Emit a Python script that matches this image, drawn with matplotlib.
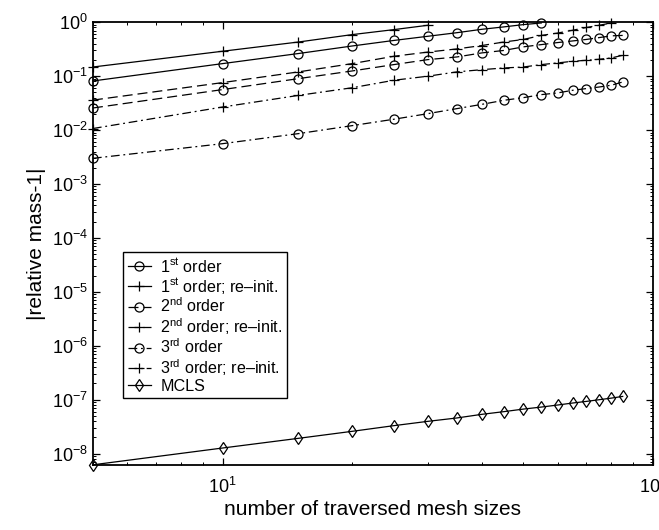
import matplotlib
matplotlib.use("Agg")
import matplotlib.pyplot as plt
from matplotlib.ticker import LogLocator, NullFormatter

plt.rcParams['font.family'] = ['Liberation Sans', 'DejaVu Sans']
plt.rcParams['mathtext.fontset'] = 'custom'
plt.rcParams['mathtext.rm'] = 'Liberation Sans'
plt.rcParams['mathtext.it'] = 'Liberation Sans:italic'

# mesh sizes traversed
n = [5, 10, 15, 20, 25, 30, 35, 40, 45, 50, 55, 60, 65, 70, 75, 80, 85]

first = [0.0815, 0.171, 0.263, 0.363, 0.46, 0.55, 0.64, 0.74, 0.82, 0.905, 0.97]
first_re = [0.148, 0.29, 0.43, 0.59, 0.73, 0.88]
second = [0.0257, 0.0564, 0.090, 0.125, 0.164, 0.203, 0.227, 0.27, 0.30,
          0.35, 0.385, 0.42, 0.45, 0.48, 0.52, 0.56, 0.57]
second_re = [0.036, 0.076, 0.12, 0.171, 0.234, 0.28, 0.32, 0.37, 0.43,
             0.48, 0.57, 0.63, 0.71, 0.80, 0.88, 0.97]
third = [0.0030, 0.0056, 0.0086, 0.0121, 0.0159, 0.0202, 0.025, 0.030, 0.0357,
         0.040, 0.0455, 0.0489, 0.0547, 0.0589, 0.063, 0.068, 0.078]
third_re = [0.0107, 0.0268, 0.044, 0.061, 0.084, 0.10, 0.12, 0.132, 0.142,
            0.148, 0.164, 0.176, 0.189, 0.197, 0.206, 0.218, 0.244]
mcls = [6.2e-9, 1.27e-8, 1.92e-8, 2.59e-8, 3.30e-8, 3.97e-8, 4.58e-8, 5.35e-8,
        6.0e-8, 6.7e-8, 7.3e-8, 7.96e-8, 8.67e-8, 9.3e-8, 1.0e-7, 1.07e-7, 1.15e-7]

labels = ['1$^{\\rm st}$ order', '1$^{\\rm st}$ order; re\u2013init.',
          '2$^{\\rm nd}$ order', '2$^{\\rm nd}$ order; re\u2013init.',
          '3$^{\\rm rd}$ order', '3$^{\\rm rd}$ order; re\u2013init.', 'MCLS']

fig = plt.figure(figsize=(6.59, 5.30), dpi=100)
ax = fig.add_axes([0.141, 0.123, 0.850, 0.835])

kw = dict(color='black', lw=0.9, ms=6.5, mfc='none', mew=0.9, clip_on=False)
dash = (0, (8, 4))
dashdot = (0, (7, 3, 1.5, 3))
ax.plot(n[:len(first)], first, ls='-', marker='o', label=labels[0], **kw)
ax.plot(n[:len(first_re)], first_re, ls='-', marker='+', label=labels[1], **kw)
ax.plot(n[:len(second)], second, ls=dash, marker='o', label=labels[2], **kw)
ax.plot(n[:len(second_re)], second_re, ls=dash, marker='+', label=labels[3], **kw)
ax.plot(n[:len(third)], third, ls=dashdot, marker='o', label=labels[4], **kw)
ax.plot(n[:len(third_re)], third_re, ls=dashdot, marker='+', label=labels[5], **kw)
ax.plot(n, mcls, ls='-', marker='d', label=labels[6], **kw)

ax.set_xscale('log')
ax.set_yscale('log')
ax.set_xlim(5, 100)
ax.set_ylim(6.2e-9, 1)
ax.yaxis.set_major_locator(LogLocator(base=10, numticks=20))
ax.yaxis.set_minor_locator(LogLocator(base=10, subs=range(2, 10), numticks=20))
ax.yaxis.set_minor_formatter(NullFormatter())
ax.xaxis.set_minor_formatter(NullFormatter())
ax.tick_params(which='both', direction='in', top=True, right=True, labelsize=13)
ax.tick_params(which='major', length=5, width=0.9)
ax.tick_params(axis='x', which='major', pad=9)
ax.tick_params(which='minor', length=2.5, width=0.7)
for s in ax.spines.values():
    s.set_linewidth(1.3)

ax.set_xlabel('number of traversed mesh sizes', fontsize=15, labelpad=2)
ax.set_ylabel('|relative mass-1|', fontsize=15, labelpad=4)

leg = ax.legend(loc='lower left', bbox_to_anchor=(0.054, 0.150), fontsize=11.6,
                frameon=True, fancybox=False, edgecolor='black', framealpha=1,
                borderaxespad=0, handlelength=1.4, handletextpad=0.6,
                labelspacing=0.05, borderpad=0.3)
leg.get_frame().set_linewidth(1.0)

fig.savefig('out.png', dpi=100)
